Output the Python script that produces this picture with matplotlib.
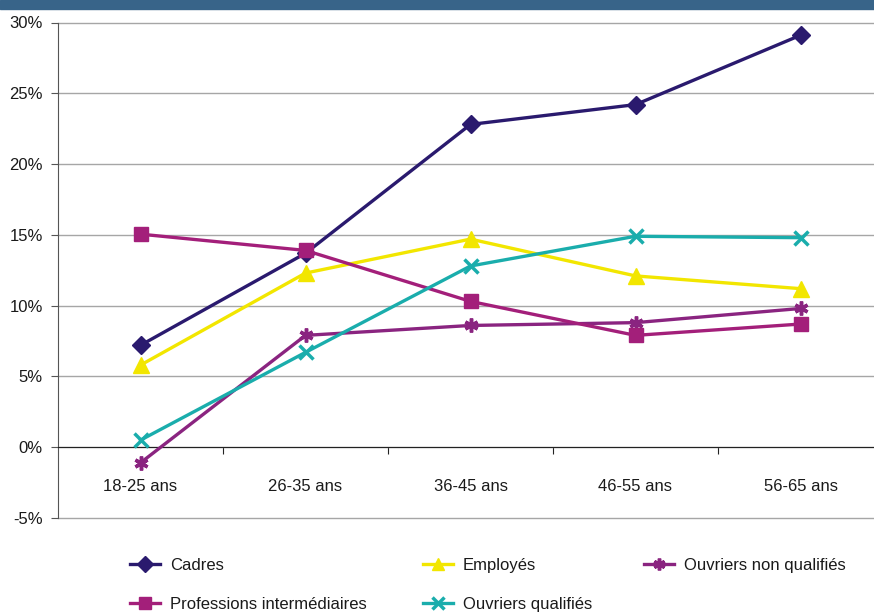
import matplotlib.pyplot as plt
from matplotlib.patches import Rectangle
from matplotlib.lines import Line2D

plt.rcParams['font.family'] = ['Liberation Sans', 'DejaVu Sans']

# données
tranches = ['18-25 ans', '26-35 ans', '36-45 ans', '46-55 ans', '56-65 ans']
cadres = [7.2, 13.7, 22.8, 24.2, 29.1]
employes = [5.8, 12.3, 14.7, 12.1, 11.2]
prof_inter = [15.05, 13.9, 10.3, 7.9, 8.7]
ouv_non_qual = [-1.1, 7.9, 8.6, 8.8, 9.8]
ouv_qual = [0.5, 6.7, 12.8, 14.9, 14.8]
y_ticks = [-5, 0, 5, 10, 15, 20, 25, 30]

W, H = 874, 612
fig = plt.figure(figsize=(W / 100, H / 100), dpi=100)
fig.patches.append(Rectangle((0, 1 - 9 / H), 1, 9 / H, transform=fig.transFigure,
                             color='#386489', zorder=0))

ax = fig.add_axes([58 / W, 1 - 518 / H, 825 / W, (518 - 22.5) / H])
x = range(len(tranches))

series = [
    ('Cadres', cadres, '#2a1a6e', 'D', 9, 1),
    ('Employés', employes, '#f2e600', '^', 11, 1),
    ('Ouvriers non qualifiés', ouv_non_qual, '#8a2480', (6, 2, 0), 10, 2.5),
    ('Professions intermédiaires', prof_inter, '#a31f7a', 's', 10, 1),
    ('Ouvriers qualifiés', ouv_qual, '#1aadac', 'x', 10, 2.5),
]
handles = {}
for nom, vals, col, mk, ms, mew in series:
    (ln,) = ax.plot(x, vals, color=col, lw=2.4, marker=mk, markersize=ms,
                    markeredgewidth=mew, markeredgecolor=col, markerfacecolor=col,
                    label=nom, zorder=3)
    handles[nom] = ln

ax.set_xlim(-0.5, 4.5)
ax.set_ylim(-5, 30)
ax.set_yticks(y_ticks)
ax.set_yticklabels([f'{v}%' for v in y_ticks])
ax.yaxis.grid(True, color='#a6a6a6', lw=1)
for gl in ax.yaxis.get_gridlines():
    gl.set_clip_on(False)
ax.set_axisbelow(True)

ax.spines['top'].set_visible(False)
ax.spines['right'].set_visible(False)
ax.spines['left'].set_color('#555555')
ax.spines['bottom'].set_position(('data', 0))
ax.spines['bottom'].set_color('#222222')

ax.set_xticks([0.5, 1.5, 2.5, 3.5])
ax.set_xticklabels([])
ax.set_xticks(list(x), minor=True)
ax.set_xticklabels(tranches, minor=True)
ax.tick_params(axis='x', which='major', length=5, color='#222222', direction='out')
ax.tick_params(axis='x', which='minor', length=0, pad=23, labelsize=12, labelcolor='#1a1a1a')
ax.tick_params(axis='y', length=5, pad=6, color='#555555', labelsize=12, labelcolor='#1a1a1a')

# légende en trois colonnes
colonnes = [(130, ['Cadres', 'Professions intermédiaires']),
            (423, ['Employés', 'Ouvriers qualifiés']),
            (644, ['Ouvriers non qualifiés'])]
for x0, noms in colonnes:
    hs = []
    for nom in noms:
        h = handles[nom]
        hs.append(Line2D([], [], color=h.get_color(), lw=2.4, marker=h.get_marker(),
                         markersize=h.get_markersize() * 0.85,
                         markeredgewidth=h.get_markeredgewidth(),
                         markeredgecolor=h.get_color(), markerfacecolor=h.get_color()))
    fig.legend(hs, noms, loc='upper left', bbox_to_anchor=(x0 / W, 1 - 558 / H),
               frameon=False, borderpad=0, borderaxespad=0, handlelength=1.8,
               handletextpad=0.6, labelspacing=1.45, fontsize=12, labelcolor='#1a1a1a')

fig.savefig('out.png', dpi=100)
